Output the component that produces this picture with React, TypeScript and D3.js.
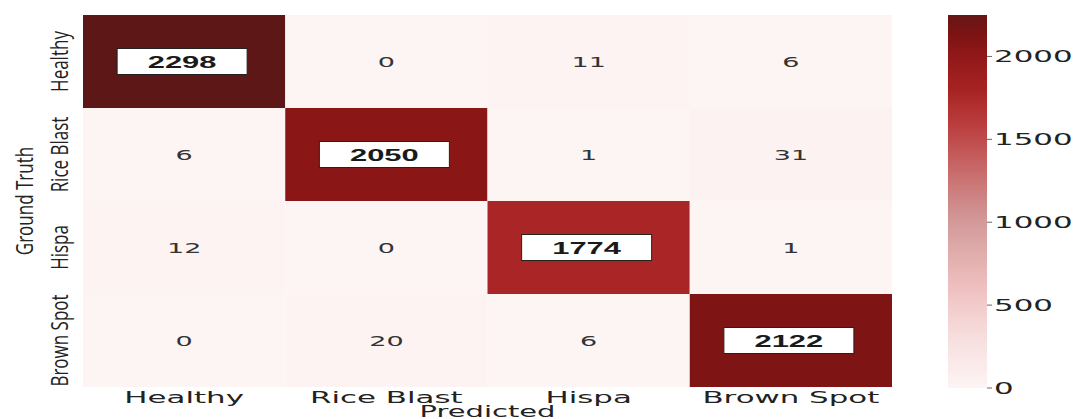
import React from "react";
import * as d3 from "d3";

const classes = ["Healthy", "Rice Blast", "Hispa", "Brown Spot"];
const matrix = [
  [2298, 0, 11, 6],
  [6, 2050, 1, 31],
  [12, 0, 1774, 1],
  [0, 20, 6, 2122],
];
const colorbarTicks = [0, 500, 1000, 1500, 2000];
const colorStopValues = [0, 300, 600, 1000, 1300, 1600, 1800, 2000, 2150, 2298];
const colorStopColors = [
  "#fdf4f4", "#f7dfdf", "#efc0c0", "#d39a9a", "#c96c6c",
  "#bb3b3b", "#a72323", "#921818", "#791313", "#5e1717",
];

const W = 1078;
const H = 419;
const SX = 1.93; // horizontal stretch of the text
const gridLeft = 83, gridRight = 892, gridTop = 15, gridBottom = 387;
const cbLeft = 948, cbRight = 987, cbTop = 15, cbBottom = 388, cbMax = 2250;

export default function App() {
  const x = d3.scaleBand().domain(classes).range([gridLeft, gridRight]);
  const y = d3.scaleBand().domain(classes).range([gridTop, gridBottom]);
  const color = d3
    .scaleLinear<string>()
    .domain(colorStopValues)
    .range(colorStopColors)
    .interpolate(d3.interpolateRgb)
    .clamp(true);
  const cbY = d3.scaleLinear().domain([0, cbMax]).range([cbBottom, cbTop]);
  const gradStops = d3.range(0, 21).map((i) => {
    const v = (cbMax * i) / 20;
    return { offset: `${(i / 20) * 100}%`, color: color(v) };
  });

  const cells: { r: number; c: number; v: number }[] = [];
  matrix.forEach((row, r) => row.forEach((v, c) => cells.push({ r, c, v })));

  return (
    <div style={{ position: "absolute", left: 0, top: 0, background: "#fff" }}>
      <svg width={W} height={H} style={{ display: "block" }}>
        <rect x={0} y={0} width={W} height={H} fill="#fff" />
        <defs>
          <linearGradient id="cb" x1="0" y1="1" x2="0" y2="0">
            {gradStops.map((s, i) => (
              <stop key={i} offset={s.offset} stopColor={s.color} />
            ))}
          </linearGradient>
        </defs>
        {cells.map(({ r, c, v }) => (
          <rect
            key={`c${r}-${c}`}
            x={x(classes[c])!}
            y={y(classes[r])!}
            width={x.bandwidth()}
            height={y.bandwidth()}
            fill={color(v)}
          />
        ))}
        {cells.map(({ r, c, v }) => {
          const cx = x(classes[c])! + x.bandwidth() / 2;
          const cy = y(classes[r])! + y.bandwidth() / 2;
          if (r === c) {
            const bw = 130, bh = 26;
            return (
              <g key={`t${r}-${c}`}>
                <rect x={cx - 2 - bw / 2} y={cy - bh / 2} width={bw} height={bh} fill="#fff" stroke="#222" strokeWidth={1} />
                <text
                  transform={`translate(${cx - 2},${cy + 6}) scale(${SX},1)`}
                  textAnchor="middle"
                  fontFamily="Liberation Sans, Arial, sans-serif"
                  fontWeight="bold"
                  fontSize={16}
                  fill="#1a1a1a"
                >
                  {v}
                </text>
              </g>
            );
          }
          return (
            <text
              key={`t${r}-${c}`}
              transform={`translate(${cx},${cy + 5}) scale(${SX},1)`}
              textAnchor="middle"
              fontFamily="DejaVu Sans, sans-serif"
              fontSize={14}
              fill="#333"
            >
              {v}
            </text>
          );
        })}
        {classes.map((cl) => (
          <text
            key={`xl${cl}`}
            transform={`translate(${x(cl)! + x.bandwidth() / 2},403) scale(${SX},1)`}
            textAnchor="middle"
            fontFamily="DejaVu Sans, sans-serif"
            fontSize={16}
            fill="#222"
          >
            {cl}
          </text>
        ))}
        <text
          transform={`translate(${(gridLeft + gridRight) / 2},417) scale(${SX},1)`}
          textAnchor="middle"
          fontFamily="DejaVu Sans, sans-serif"
          fontSize={15}
          fill="#222"
        >
          Predicted
        </text>
        {classes.map((cl) => (
          <text
            key={`yl${cl}`}
            transform={`translate(68,${y(cl)! + y.bandwidth() / 2}) rotate(-90) scale(1,1.4)`}
            textAnchor="middle"
            fontFamily="Open Sans, sans-serif"
            fontSize={17}
            fill="#222"
          >
            {cl}
          </text>
        ))}
        <text
          transform={`translate(33,${(gridTop + gridBottom) / 2}) rotate(-90) scale(1,1.4)`}
          textAnchor="middle"
          fontFamily="Open Sans, sans-serif"
          fontSize={17}
          fill="#222"
        >
          Ground Truth
        </text>
        <rect x={cbLeft} y={cbTop} width={cbRight - cbLeft} height={cbBottom - cbTop} fill="url(#cb)" />
        {colorbarTicks.map((t) => (
          <g key={`cbt${t}`}>
            <line x1={cbRight} x2={cbRight + 5} y1={cbY(t)} y2={cbY(t)} stroke="#666" strokeWidth={1} />
            <text
              transform={`translate(${cbRight + 7},${cbY(t) + 6}) scale(${SX},1)`}
              fontFamily="DejaVu Sans, sans-serif"
              fontSize={16}
              fill="#222"
            >
              {t}
            </text>
          </g>
        ))}
      </svg>
    </div>
  );
}
